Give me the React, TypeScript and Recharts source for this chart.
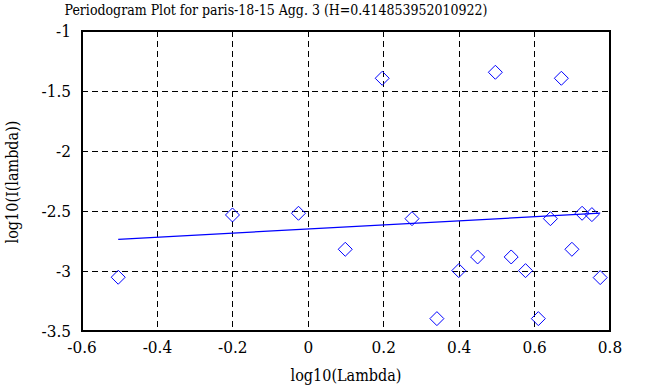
import React from 'react';
import { ScatterChart, Scatter, XAxis, YAxis, CartesianGrid, ReferenceArea } from 'recharts';

// log10(Lambda) vs log10(I(lambda))
const lambdaLog = [-0.504, -0.201, -0.026, 0.098, 0.196, 0.275, 0.341, 0.399, 0.449, 0.496, 0.538, 0.576, 0.61, 0.642, 0.671, 0.699, 0.726, 0.752, 0.774];
const periodLog = [-3.052, -2.533, -2.519, -2.819, -1.394, -2.564, -3.397, -2.997, -2.883, -1.344, -2.883, -2.997, -3.397, -2.564, -1.394, -2.819, -2.519, -2.53, -3.055];

// fitted line end points
const fitX = [-0.504, 0.774];
const fitY = [-2.736, -2.518];

const xTicks = [-0.6, -0.4, -0.2, 0, 0.2, 0.4, 0.6, 0.8];
const yTicks = [-3.5, -3, -2.5, -2, -1.5, -1];

const points = lambdaLog.map((x, i) => ({ x, y: periodLog[i] }));
const fit = fitX.map((x, i) => ({ x, y: fitY[i] }));

const FONT = "'DejaVu Serif Condensed', 'DejaVu Serif', serif";
const BLUE = '#0000ff';
const txt = { fontFamily: FONT, fontStretch: 'condensed' as const };
const innerTick = { stroke: '#000', strokeWidth: 2 };

const Diamond = (props: any) => {
  const { cx, cy } = props;
  const r = 7;
  return <path d={`M${cx},${cy - r}L${cx + r},${cy}L${cx},${cy + r}L${cx - r},${cy}Z`} fill="none" stroke={BLUE} strokeWidth={1} />;
};

const fmt = (v: number) => String(v);

export default function App() {
  return (
    <div style={{ position: 'absolute', left: 0, top: 0, width: 658, height: 387, background: '#fff', ...txt }}>
      <div style={{ position: 'absolute', left: 0, width: 552, top: 0, textAlign: 'center', fontSize: 14, lineHeight: '20px', color: '#000', ...txt }}>
        Periodogram Plot for paris-18-15 Agg. 3 (H=0.414853952010922)
      </div>
      <div style={{ position: 'absolute', left: 82, width: 528, top: 365, textAlign: 'center', fontSize: 16, lineHeight: '22px', color: '#000', ...txt }}>
        log10(Lambda)
      </div>
      <div style={{ position: 'absolute', left: 13, top: 182, width: 0, height: 0 }}>
        <div style={{ position: 'absolute', left: -100, top: -11, width: 200, textAlign: 'center', fontSize: 16, lineHeight: '22px', transform: 'rotate(-90deg)', whiteSpace: 'nowrap', ...txt }}>
          log10(I(lambda))
        </div>
      </div>
      <div style={{ position: 'absolute', left: 0, top: 0, ...txt }}>
        <ScatterChart width={658} height={387} margin={{ top: 31, right: 48, left: 0, bottom: 0 }} style={txt}>
          <CartesianGrid stroke="#000" strokeDasharray="6 4" strokeWidth={1} shapeRendering="crispEdges" horizontalValues={[-3, -2.5, -2, -1.5]} verticalValues={[-0.4, -0.2, 0, 0.2, 0.4, 0.6]} />
          <XAxis type="number" dataKey="x" domain={[-0.6, 0.8]} ticks={xTicks} tickFormatter={fmt} height={56} axisLine={false} tickLine={false} tickSize={0} tickMargin={10} tick={{ fill: '#000', fontSize: 17, style: txt }} interval={0} allowDataOverflow />
          <XAxis xAxisId="inB" type="number" dataKey="x" orientation="bottom" mirror domain={[-0.6, 0.8]} ticks={xTicks} height={56} axisLine={false} tick={false} tickLine={innerTick} tickSize={6} interval={0} allowDataOverflow />
          <YAxis type="number" dataKey="y" domain={[-3.5, -1]} ticks={yTicks} tickFormatter={fmt} width={82} axisLine={false} tickLine={false} tickSize={0} tickMargin={11} tick={{ fill: '#000', fontSize: 17, style: txt }} interval={0} allowDataOverflow />
          <YAxis yAxisId="inL" type="number" dataKey="y" orientation="left" mirror domain={[-3.5, -1]} ticks={yTicks} width={60} axisLine={false} tick={false} tickLine={innerTick} tickSize={6} interval={0} allowDataOverflow />
          <YAxis yAxisId="inR" type="number" dataKey="y" orientation="right" mirror domain={[-3.5, -1]} ticks={yTicks} width={60} axisLine={false} tick={false} tickLine={innerTick} tickSize={6} interval={0} allowDataOverflow />
          <ReferenceArea x1={-0.6} x2={0.8} y1={-3.5} y2={-1} fill="none" stroke="#000" strokeWidth={2} shapeRendering="crispEdges" />
          <Scatter data={points} shape={<Diamond />} isAnimationActive={false} />
          <Scatter data={fit} line={{ stroke: BLUE, strokeWidth: 1.3 }} shape={() => <g />} isAnimationActive={false} />
        </ScatterChart>
      </div>
    </div>
  );
}
